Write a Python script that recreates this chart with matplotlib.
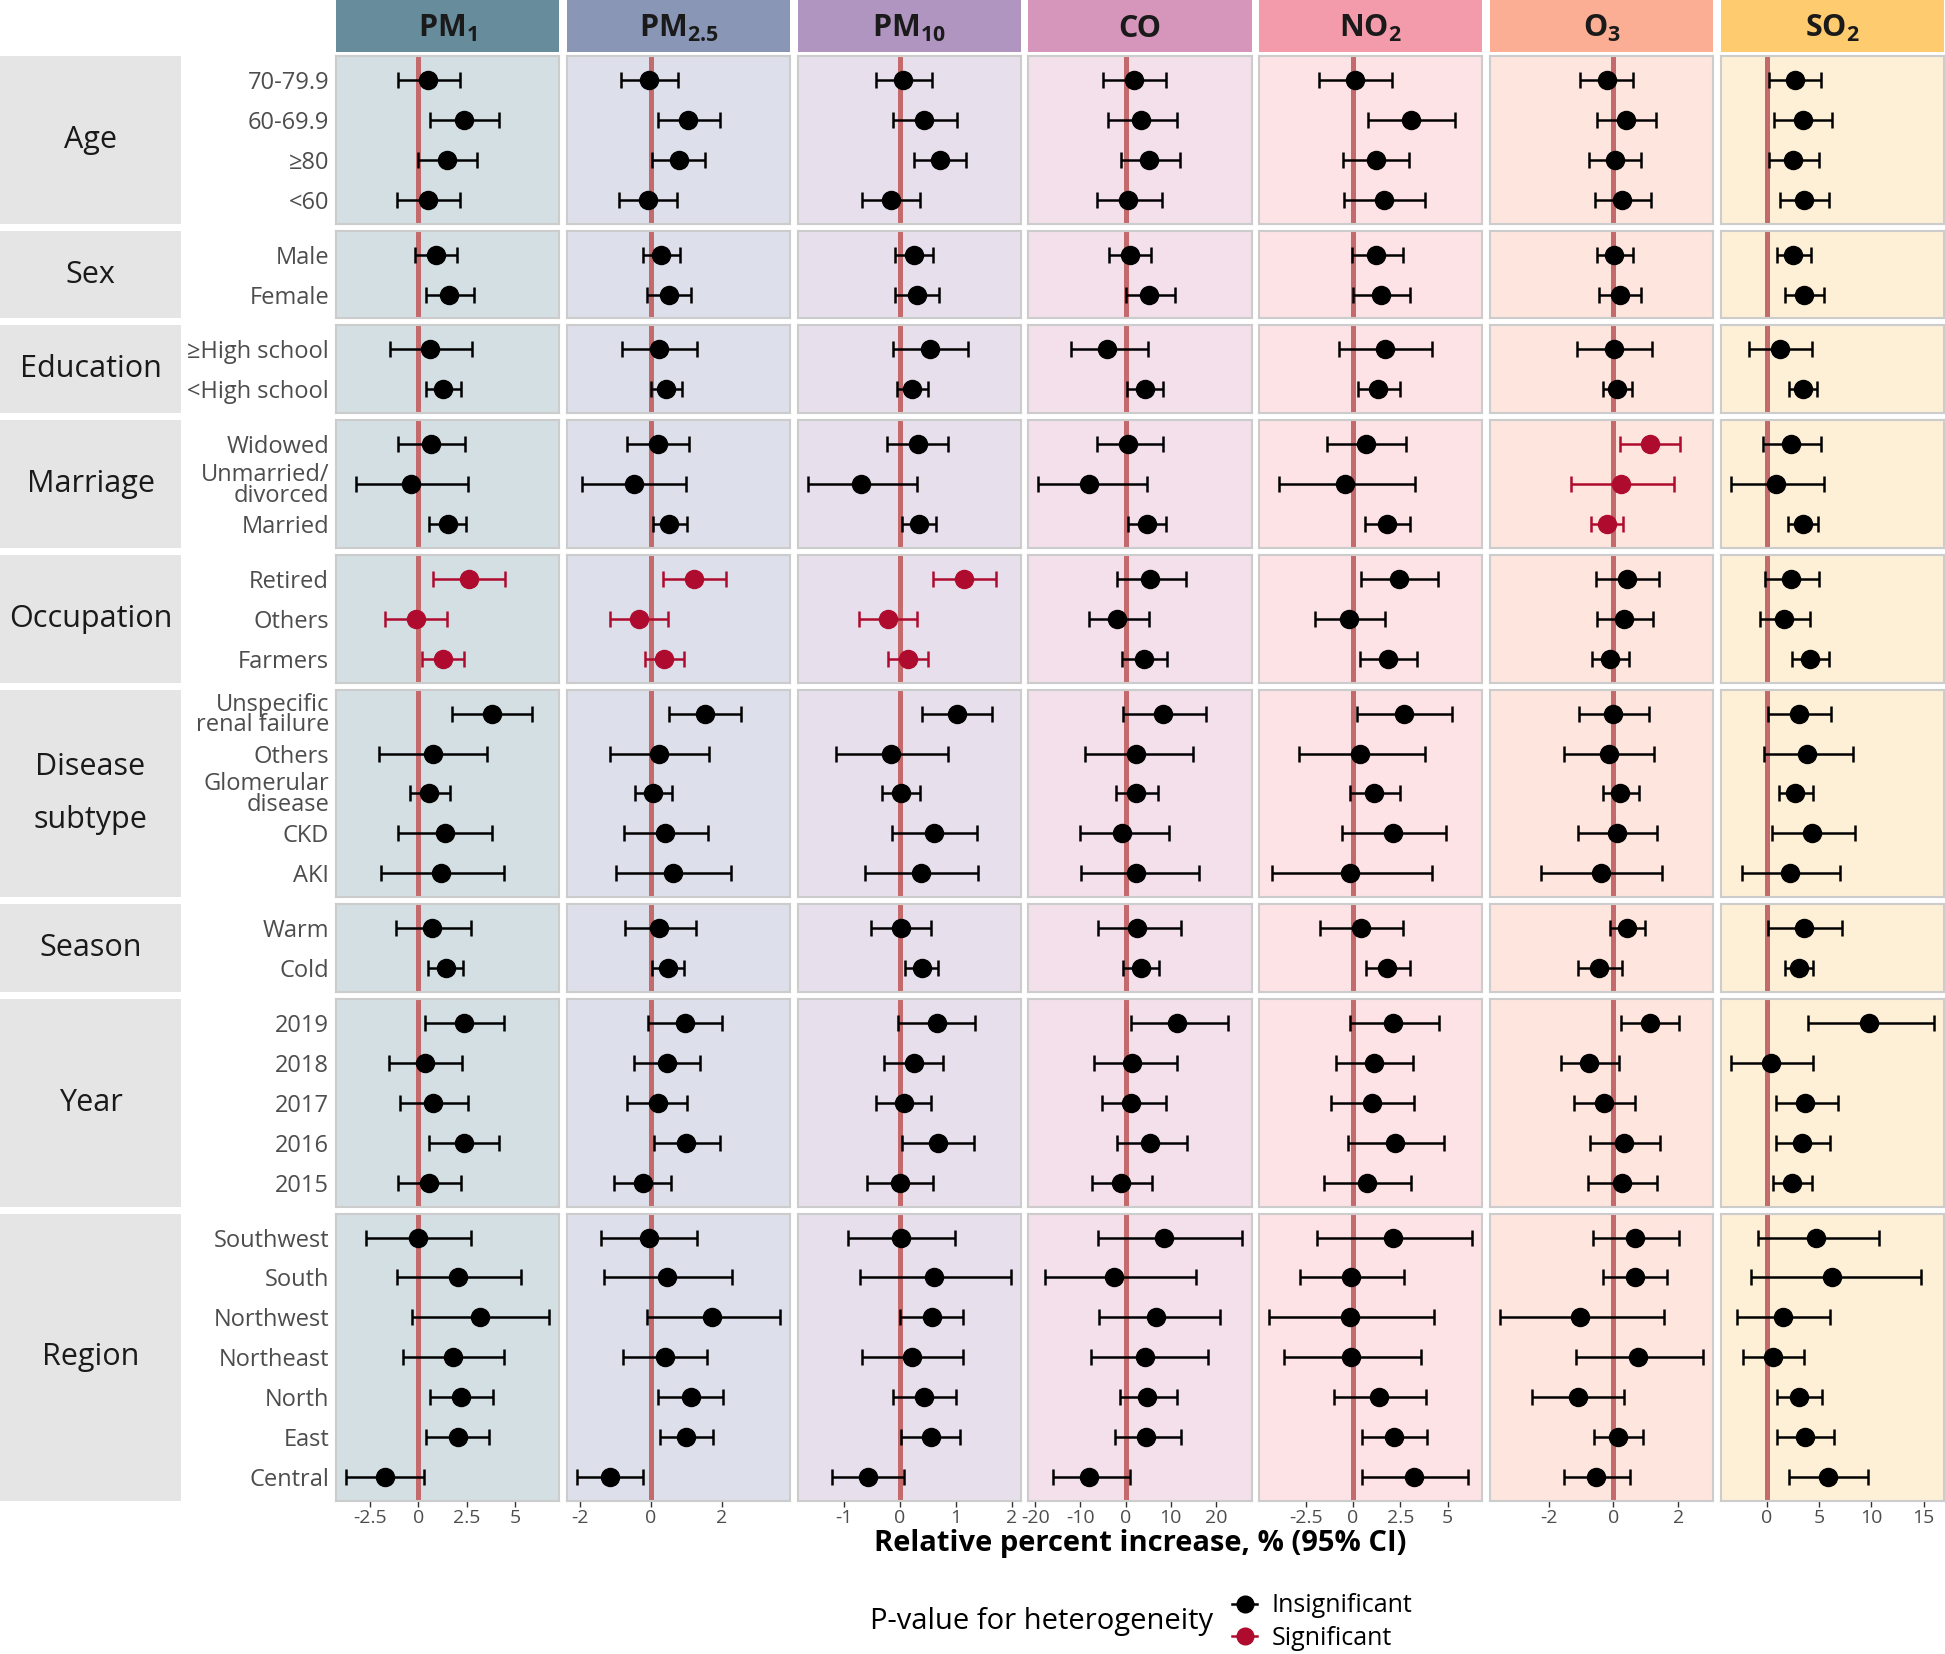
import numpy as np
import matplotlib.pyplot as plt
from matplotlib.lines import Line2D

plt.rcParams['font.family'] = ['Open Sans', 'DejaVu Sans']
plt.rcParams['mathtext.fontset'] = 'custom'
plt.rcParams['mathtext.rm'] = 'Open Sans'
plt.rcParams['mathtext.bf'] = 'Open Sans:bold'
plt.rcParams['axes.unicode_minus'] = False

groups = ['Age', 'Sex', 'Education', 'Marriage', 'Occupation', 'Disease\nsubtype', 'Season', 'Year', 'Region']
group_sizes = [4, 2, 2, 3, 3, 5, 2, 5, 7]
row_labels = ['70-79.9', '60-69.9', '≥80', '<60',
              'Male', 'Female',
              '≥High school', '<High school',
              'Widowed', 'Unmarried/\ndivorced', 'Married',
              'Retired', 'Others', 'Farmers',
              'Unspecific\nrenal failure', 'Others', 'Glomerular\ndisease', 'CKD', 'AKI',
              'Warm', 'Cold',
              '2019', '2018', '2017', '2016', '2015',
              'Southwest', 'South', 'Northwest', 'Northeast', 'North', 'East', 'Central']

pollutants = ['PM$_{\\mathbf{1}}$', 'PM$_{\\mathbf{2.5}}$', 'PM$_{\\mathbf{10}}$', 'CO',
              'NO$_{\\mathbf{2}}$', 'O$_{\\mathbf{3}}$', 'SO$_{\\mathbf{2}}$']

pm1_est = [0.52, 2.37, 1.51, 0.52, 0.89, 1.61, 0.61, 1.30, 0.67, -0.40, 1.53, 2.60, -0.11, 1.29, 3.80, 0.75, 0.56,
           1.37, 1.16, 0.73, 1.41, 2.37, 0.34, 0.77, 2.37, 0.57, -0.02, 2.05, 3.19, 1.80, 2.21, 2.03, -1.73]
pm1_lo = [-1.05, 0.61, -0.02, -1.08, -0.16, 0.39, -1.48, 0.41, -1.05, -3.23, 0.56, 0.77, -1.73, 0.20, 1.73, -2.04,
          -0.45, -1.05, -1.96, -1.18, 0.50, 0.36, -1.50, -0.96, 0.57, -1.07, -2.69, -1.09, -0.32, -0.80, 0.59, 0.41,
          -3.74]
pm1_hi = [2.15, 4.18, 3.04, 2.18, 1.98, 2.89, 2.80, 2.20, 2.41, 2.57, 2.49, 4.50, 1.50, 2.39, 5.90, 3.58, 1.63, 3.82,
          4.42, 2.73, 2.30, 4.42, 2.28, 2.58, 4.19, 2.23, 2.73, 5.33, 6.78, 4.46, 3.89, 3.65, 0.30]

pm25_est = [-0.05, 1.05, 0.78, -0.08, 0.28, 0.51, 0.23, 0.41, 0.20, -0.48, 0.51, 1.22, -0.34, 0.36, 1.53, 0.23, 0.07,
            0.40, 0.61, 0.23, 0.48, 0.96, 0.45, 0.19, 1.00, -0.22, -0.07, 0.45, 1.72, 0.39, 1.12, 0.99, -1.17]
pm25_lo = [-0.85, 0.20, 0.03, -0.90, -0.22, -0.10, -0.82, 0.00, -0.68, -1.94, 0.06, 0.34, -1.15, -0.16, 0.51, -1.16,
           -0.45, -0.77, -0.99, -0.74, 0.04, -0.09, -0.47, -0.67, 0.09, -1.03, -1.40, -1.34, -0.12, -0.80, 0.21, 0.25,
           -2.09]
pm25_hi = [0.75, 1.95, 1.53, 0.72, 0.83, 1.13, 1.30, 0.87, 1.07, 0.99, 1.02, 2.13, 0.48, 0.92, 2.53, 1.64, 0.60, 1.62,
           2.26, 1.26, 0.93, 2.01, 1.38, 1.03, 1.95, 0.57, 1.30, 2.28, 3.64, 1.59, 2.02, 1.76, -0.22]

pm10_est = [0.06, 0.44, 0.72, -0.16, 0.26, 0.30, 0.54, 0.22, 0.33, -0.69, 0.34, 1.14, -0.21, 0.14, 1.02, -0.15, 0.02,
            0.62, 0.38, 0.03, 0.39, 0.67, 0.25, 0.07, 0.68, 0.00, 0.02, 0.62, 0.57, 0.22, 0.43, 0.55, -0.56]
pm10_lo = [-0.43, -0.12, 0.25, -0.68, -0.09, -0.08, -0.12, -0.04, -0.22, -1.64, 0.05, 0.60, -0.72, -0.20, 0.40, -1.13,
           -0.31, -0.13, -0.61, -0.51, 0.10, -0.03, -0.28, -0.43, 0.05, -0.59, -0.92, -0.70, 0.01, -0.67, -0.12, 0.02,
           -1.21]
pm10_hi = [0.57, 1.02, 1.19, 0.37, 0.60, 0.70, 1.22, 0.50, 0.87, 0.30, 0.65, 1.71, 0.30, 0.51, 1.65, 0.87, 0.36, 1.38,
           1.40, 0.56, 0.69, 1.35, 0.78, 0.56, 1.32, 0.60, 0.98, 1.98, 1.13, 1.12, 1.01, 1.07, 0.08]

co_est = [1.9, 3.5, 5.2, 0.5, 0.9, 5.2, -4.1, 4.2, 0.6, -8.0, 4.7, 5.4, -1.9, 4.0, 8.2, 2.3, 2.3, -0.8, 2.3, 2.6, 3.4,
          11.4, 1.5, 1.3, 5.4, -0.9, 8.6, -2.5, 6.7, 4.4, 4.8, 4.5, -8.1]
co_lo = [-4.9, -3.8, -1.1, -6.3, -3.6, 0.0, -12.2, 0.4, -6.3, -19.3, 0.6, -1.8, -8.2, -0.8, -0.6, -8.9, -2.2, -10.1,
         -9.9, -6.2, -0.5, 1.3, -7.0, -5.3, -1.9, -7.4, -6.1, -17.9, -5.8, -7.7, -1.3, -2.4, -16.1]
co_hi = [9.0, 11.5, 12.1, 8.1, 5.7, 11.0, 4.9, 8.3, 8.2, 4.7, 9.0, 13.5, 5.2, 9.2, 17.9, 14.9, 7.2, 9.7, 16.3, 12.2, 7.5,
         22.6, 11.4, 9.0, 13.6, 5.8, 25.7, 15.7, 21.0, 18.2, 11.5, 12.2, 0.9]

no2_est = [0.10, 3.05, 1.20, 1.62, 1.24, 1.49, 1.67, 1.33, 0.67, -0.42, 1.82, 2.43, -0.21, 1.85, 2.70, 0.37, 1.12, 2.10,
           -0.15, 0.40, 1.82, 2.12, 1.12, 1.00, 2.21, 0.73, 2.10, -0.09, -0.18, -0.12, 1.40, 2.19, 3.24]
no2_lo = [-1.82, 0.78, -0.52, -0.49, -0.06, 0.00, -0.72, 0.28, -1.40, -3.94, 0.64, 0.40, -2.00, 0.37, 0.21, -2.88,
          -0.18, -0.60, -4.28, -1.76, 0.67, -0.18, -0.88, -1.15, -0.24, -1.51, -1.91, -2.79, -4.43, -3.67, -1.03, 0.49,
          0.49]
no2_hi = [2.08, 5.38, 2.98, 3.83, 2.64, 3.03, 4.19, 2.46, 2.79, 3.28, 3.03, 4.52, 1.67, 3.37, 5.24, 3.82, 2.49, 4.91,
          4.19, 2.64, 3.00, 4.55, 3.15, 3.24, 4.82, 3.06, 6.31, 2.70, 4.28, 3.61, 3.88, 3.94, 6.10]

o3_est = [-0.21, 0.40, 0.04, 0.27, 0.03, 0.20, 0.03, 0.12, 1.14, 0.23, -0.21, 0.41, 0.32, -0.09, 0.00, -0.14, 0.21,
          0.11, -0.39, 0.43, -0.43, 1.14, -0.75, -0.28, 0.32, 0.27, 0.66, 0.66, -1.02, 0.77, -1.10, 0.14, -0.54]
o3_lo = [-1.03, -0.52, -0.74, -0.57, -0.52, -0.43, -1.11, -0.32, 0.21, -1.32, -0.68, -0.55, -0.52, -0.66, -1.05, -1.52,
         -0.32, -1.09, -2.23, -0.09, -1.09, 0.25, -1.62, -1.21, -0.73, -0.79, -0.64, -0.32, -3.50, -1.16, -2.50, -0.60,
         -1.53]
o3_hi = [0.61, 1.32, 0.84, 1.15, 0.60, 0.86, 1.19, 0.59, 2.07, 1.88, 0.31, 1.41, 1.22, 0.47, 1.09, 1.27, 0.79, 1.34,
         1.50, 0.98, 0.27, 2.04, 0.16, 0.66, 1.43, 1.36, 2.04, 1.66, 1.55, 2.77, 0.34, 0.91, 0.50]

so2_est = [2.66, 3.41, 2.53, 3.53, 2.53, 3.53, 1.21, 3.41, 2.32, 0.87, 3.41, 2.32, 1.64, 4.08, 3.09, 3.86, 2.70, 4.35,
           2.20, 3.58, 3.03, 9.81, 0.43, 3.69, 3.36, 2.42, 4.74, 6.24, 1.54, 0.61, 3.09, 3.64, 5.84]
so2_lo = [0.23, 0.70, 0.17, 1.24, 0.93, 1.70, -1.71, 2.10, -0.38, -3.47, 1.98, -0.22, -0.66, 2.37, 0.06, -0.28, 1.15,
          0.44, -2.38, 0.10, 1.70, 3.96, -3.43, 0.83, 0.87, 0.61, -0.83, -1.49, -2.87, -2.26, 0.99, 0.99, 2.10]
so2_hi = [5.13, 6.19, 4.95, 5.90, 4.18, 5.51, 4.35, 4.79, 5.13, 5.45, 4.91, 5.01, 4.08, 5.90, 6.18, 8.26, 4.41, 8.44,
          7.00, 7.21, 4.41, 15.99, 4.41, 6.83, 6.00, 4.35, 10.75, 14.72, 6.06, 3.58, 5.29, 6.40, 9.70]

# groups with significant heterogeneity, per pollutant
sig_pm1 = ['Occupation']
sig_pm25 = ['Occupation']
sig_pm10 = ['Occupation']
sig_co = []
sig_no2 = []
sig_o3 = ['Marriage']
sig_so2 = []

xticks_pm1 = [-2.5, 0, 2.5, 5]
xticks_pm25 = [-2, 0, 2]
xticks_pm10 = [-1, 0, 1, 2]
xticks_co = [-20, -10, 0, 10, 20]
xticks_no2 = [-2.5, 0, 2.5, 5]
xticks_o3 = [-2, 0, 2]
xticks_so2 = [0, 5, 10, 15]

data = [(pm1_est, pm1_lo, pm1_hi, sig_pm1, xticks_pm1),
        (pm25_est, pm25_lo, pm25_hi, sig_pm25, xticks_pm25),
        (pm10_est, pm10_lo, pm10_hi, sig_pm10, xticks_pm10),
        (co_est, co_lo, co_hi, sig_co, xticks_co),
        (no2_est, no2_lo, no2_hi, sig_no2, xticks_no2),
        (o3_est, o3_lo, o3_hi, sig_o3, xticks_o3),
        (so2_est, so2_lo, so2_hi, sig_so2, xticks_so2)]

strip_colors = ['#678C9B', '#8996B5', '#B095C1', '#D695BA', '#F49BAB', '#FCAE94', '#FECB6E']
panel_colors = ['#D3DFE3', '#DDDFEA', '#E7E0EC', '#F3E0EA', '#FDE2E6', '#FEE6DE', '#FEF0D6']
red = '#AF0B2E'

W, H = 1945, 1654
fig = plt.figure(figsize=(W / 100, H / 100), dpi=100)


def rect(x0, y0, x1, y1):
    return [x0 / W, 1 - y1 / H, (x1 - x0) / W, (y1 - y0) / H]


left, right, col_gap = 336, 1944, 7.4
top, bottom, row_gap = 56, 1501, 7
col_w = (right - left - 6 * col_gap) / 7
unit = (bottom - top - 8 * row_gap) / (sum(group_sizes) + 0.2 * len(groups))

# strips
for j, name in enumerate(pollutants):
    x0 = left + j * (col_w + col_gap)
    sax = fig.add_axes(rect(x0, 0, x0 + col_w, 52))
    sax.set_facecolor(strip_colors[j])
    sax.set_xticks([])
    sax.set_yticks([])
    for s in sax.spines.values():
        s.set_visible(False)
    sax.text(0.5, 0.45, name, ha='center', va='center', fontsize=22, fontweight='bold', color='#1A1A1A',
             transform=sax.transAxes)

y_cur = top
start = 0
for i, g in enumerate(groups):
    n = group_sizes[i]
    h = (n + 0.2) * unit
    labels = row_labels[start:start + n]

    gax = fig.add_axes(rect(0, y_cur, 181, y_cur + h))
    gax.set_facecolor('#E5E5E5')
    gax.set_xticks([])
    gax.set_yticks([])
    for s in gax.spines.values():
        s.set_visible(False)
    gax.text(0.5, 0.5, g, ha='center', va='center', fontsize=22, color='#1A1A1A', linespacing=2.0,
             transform=gax.transAxes)

    for j in range(7):
        est, lo, hi, sig, xt = data[j]
        est_a = np.array(est)
        lo_a = np.array(lo)
        hi_a = np.array(hi)
        x0 = left + j * (col_w + col_gap)
        ax = fig.add_axes(rect(x0, y_cur, x0 + col_w, y_cur + h))
        ax.set_facecolor(panel_colors[j])
        for s in ax.spines.values():
            s.set_color('#CCCCCC')
            s.set_linewidth(1.5)

        e = est_a[start:start + n]
        l = lo_a[start:start + n]
        u = hi_a[start:start + n]
        c = red if g in sig else 'black'
        ax.axvline(0, color='#C46A6C', lw=3.6, zorder=1)
        ax.errorbar(e, np.arange(n), xerr=[e - l, u - e], fmt='o', color=c, ms=13, capsize=6,
                    elinewidth=1.8, capthick=1.8, zorder=3)

        span = hi_a.max() - lo_a.min()
        ax.set_xlim(lo_a.min() - 0.05 * span, hi_a.max() + 0.05 * span)
        ax.set_ylim(n - 0.4, -0.6)
        ax.set_xticks(xt)
        ax.set_xticklabels(['{:g}'.format(t) for t in xt])
        if i == len(groups) - 1:
            ax.tick_params(axis='x', length=4, width=1, color='#333333', labelsize=14, labelcolor='#4D4D4D', pad=2)
        else:
            ax.tick_params(axis='x', length=0, labelbottom=False)
        ax.set_yticks(np.arange(n))
        if j == 0:
            ax.set_yticklabels(labels, fontsize=17, color='#4D4D4D', linespacing=0.8)
            ax.tick_params(axis='y', length=0, pad=5)
        else:
            ax.tick_params(axis='y', length=0, labelleft=False)

    y_cur += h + row_gap
    start += n

fig.text((left + right) / 2 / W, 1 - 1544 / H, 'Relative percent increase, % (95% CI)', ha='center', va='center',
         fontsize=21, fontweight='bold', color='black')

fig.text(1213 / W, 1 - 1622 / H, 'P-value for heterogeneity', ha='right', va='center', fontsize=21, color='black')
handles = [Line2D([0], [0], color='black', marker='o', ms=12, lw=1.8),
           Line2D([0], [0], color=red, marker='o', ms=12, lw=1.8)]
fig.legend(handles=handles, labels=['Insignificant', 'Significant'], loc='center left',
           bbox_to_anchor=(1232 / W, 1 - 1622 / H), frameon=False, fontsize=18, handlelength=1.0,
           labelspacing=0.3, handletextpad=0.6, borderaxespad=0, borderpad=0)

fig.savefig('out.png', dpi=100)
